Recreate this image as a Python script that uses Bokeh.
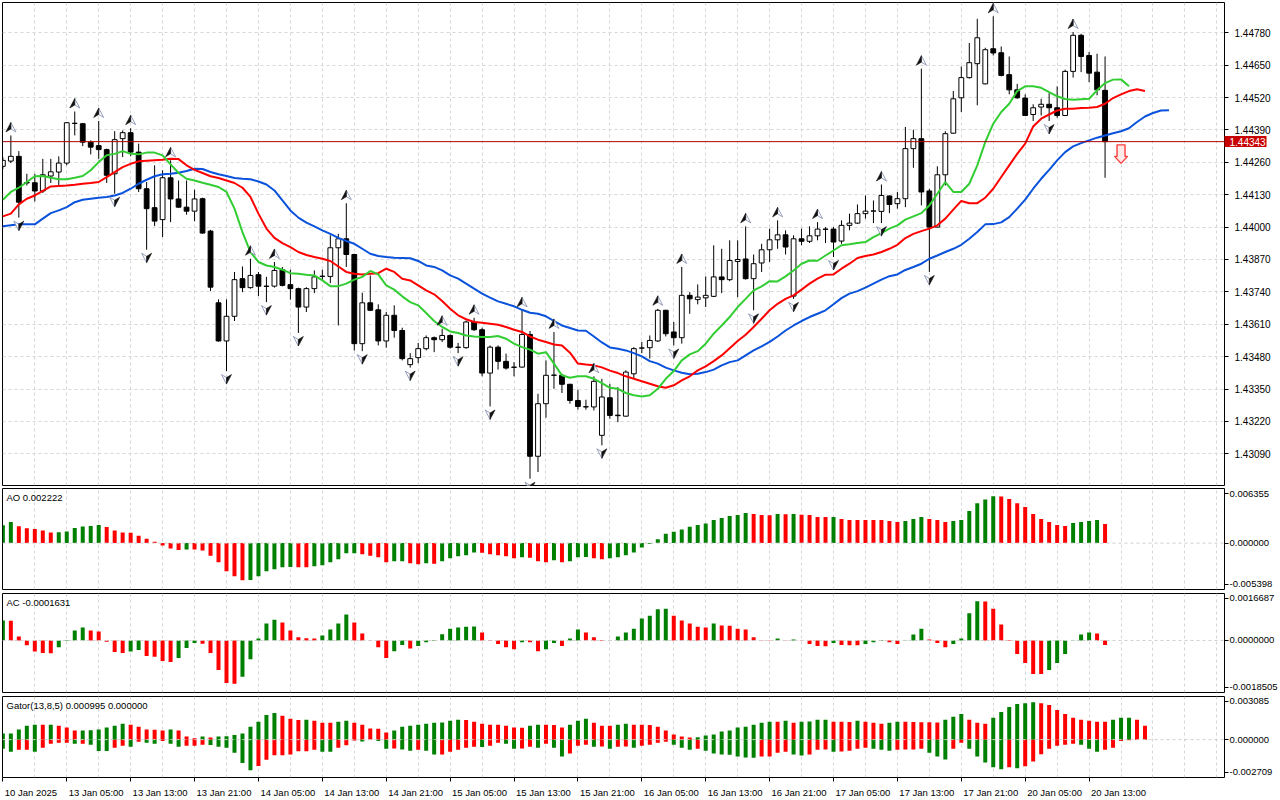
import numpy as np
from bokeh.plotting import figure
from bokeh.layouts import column
from bokeh.models import (Range1d, FixedTicker, PrintfTickFormatter, Span, Label, Grid,
                          LinearAxis)
from bokeh.embed import file_html
from bokeh.resources import INLINE

# ---------------- data (prices in points of 0.00001) ----------------
open_pts = [
    144244, 144265, 144284, 144179, 144178, 144145, 144205, 144221, 144257, 144416,
    144415, 144341, 144327, 144311, 144214, 144355, 144379, 144301, 144154, 144078,
    144030, 144198, 144113, 144080, 144064, 144114, 143984, 143696, 143543, 143642,
    143793, 143757, 143809, 143763, 143763, 143829, 143769, 143753, 143679, 143753,
    143802, 143802, 143917, 143953, 143890, 143532, 143696, 143668, 143543, 143646,
    143585, 143448, 143476, 143512, 143556, 143548, 143565, 143518, 143516, 143619,
    143588, 143414, 143518, 143461, 143438, 143438, 143569, 143080, 143291, 143405,
    143405, 143369, 143304, 143279, 143278, 143164, 143315, 143245, 143241, 143411,
    143514, 143516, 143543, 143666, 143579, 143556, 143726, 143709, 143716, 143722,
    143800, 143789, 143862, 143872, 143793, 143856, 143909, 143949, 143969, 143723,
    143953, 143943, 143965, 143992, 143992, 143944, 144007, 144016, 144054, 144064,
    144063, 144125, 144094, 144114, 144315, 144355, 144145, 144000, 144210, 144377,
    144519, 144600, 144656, 144575, 144716, 144700, 144612, 144551, 144518, 144452,
    144482, 144493, 144479, 144448, 144625, 144770, 144689, 144622, 144549]
high_pts = [
    144281, 144368, 144305, 144214, 144214, 144274, 144274, 144284, 144422, 144464,
    144418, 144348, 144426, 144315, 144385, 144388, 144397, 144335, 144181, 144248,
    144228, 144268, 144187, 144187, 144150, 144118, 143989, 143710, 143710, 143820,
    143842, 143873, 143820, 143800, 143860, 143840, 143829, 143757, 143759, 143826,
    143829, 143967, 143973, 144096, 143893, 143737, 143806, 143690, 143659, 143686,
    143596, 143494, 143535, 143565, 143561, 143592, 143569, 143535, 143625, 143636,
    143596, 143525, 143525, 143492, 143458, 143666, 143583, 143331, 143465, 143579,
    143411, 143371, 143347, 143307, 143401, 143391, 143371, 143358, 143425, 143518,
    143539, 143565, 143672, 143668, 143619, 143840, 143739, 143770, 143802, 143927,
    143913, 143947, 143947, 144003, 143890, 143933, 143994, 144027, 143987, 143967,
    143994, 144003, 144020, 144000, 144000, 144027, 144054, 144091, 144127, 144107,
    144171, 144127, 144141, 144402, 144391, 144636, 144154, 144244, 144385, 144546,
    144645, 144739, 144836, 144720, 144846, 144725, 144685, 144575, 144533, 144493,
    144515, 144538, 144565, 144632, 144783, 144776, 144703, 144696, 144685]
low_pts = [
    144234, 144257, 144038, 144167, 144103, 144137, 144177, 144167, 144248, 144368,
    144325, 144292, 144274, 144177, 144134, 144281, 144284, 144141, 143909, 144004,
    143960, 144020, 144078, 144050, 144024, 143973, 143743, 143540, 143422, 143623,
    143739, 143753, 143723, 143699, 143757, 143762, 143709, 143575, 143659, 143735,
    143786, 143775, 143605, 143840, 143505, 143502, 143663, 143525, 143516, 143556,
    143465, 143436, 143454, 143505, 143498, 143539, 143512, 143494, 143512, 143583,
    143401, 143280, 143428, 143428, 143401, 143436, 142990, 143017, 143235, 143351,
    143334, 143291, 143267, 143267, 143264, 143124, 143231, 143217, 143240, 143391,
    143494, 143472, 143539, 143561, 143525, 143532, 143652, 143690, 143679, 143719,
    143735, 143783, 143719, 143789, 143666, 143820, 143860, 143913, 143890, 143712,
    143927, 143936, 143947, 143936, 143880, 143933, 143987, 144013, 144034, 144016,
    144016, 144056, 144074, 144080, 144238, 144087, 143820, 143999, 144167, 144375,
    144462, 144596, 144489, 144573, 144689, 144605, 144533, 144515, 144447, 144426,
    144448, 144426, 144439, 144447, 144600, 144622, 144582, 144529, 144198]
close_pts = [
    144268, 144284, 144100, 144177, 144145, 144210, 144222, 144257, 144419, 144417,
    144341, 144321, 144311, 144208, 144351, 144379, 144301, 144154, 144074, 144024,
    144198, 144113, 144080, 144064, 144113, 143976, 143759, 143543, 143642, 143789,
    143757, 143806, 143763, 143762, 143826, 143766, 143753, 143679, 143753, 143800,
    143803, 143917, 143953, 143890, 143532, 143696, 143666, 143543, 143646, 143585,
    143472, 143472, 143512, 143556, 143548, 143565, 143518, 143517, 143619, 143588,
    143414, 143518, 143461, 143434, 143437, 143569, 143080, 143291, 143405, 143406,
    143369, 143304, 143280, 143278, 143381, 143318, 143244, 143243, 143418, 143512,
    143515, 143545, 143666, 143572, 143556, 143726, 143712, 143719, 143726, 143800,
    143789, 143866, 143870, 143793, 143853, 143909, 143949, 143969, 143920, 143953,
    143943, 143965, 143992, 143991, 143940, 144007, 144016, 144054, 144064, 144065,
    144127, 144091, 144114, 144315, 144355, 144141, 144000, 144210, 144375, 144515,
    144600, 144660, 144760, 144712, 144699, 144609, 144551, 144519, 144448, 144479,
    144493, 144479, 144448, 144625, 144770, 144685, 144618, 144551, 144343]

# Alligator lines (already shifted forward), price points
jaw_pts = [
    144003, 144007, 144011, 144011, 144011, 144034, 144056, 144067, 144080, 144100,
    144110, 144114, 144118, 144121, 144127, 144137, 144154, 144174, 144190, 144204,
    144212, 144214, 144218, 144225, 144234, 144233, 144221, 144212, 144205, 144197,
    144194, 144192, 144183, 144171, 144147, 144107, 144067, 144038, 144018, 144003,
    143987, 143973, 143957, 143944, 143933, 143913, 143893, 143884, 143880, 143877,
    143876, 143875, 143864, 143846, 143840, 143826, 143806, 143793, 143773, 143753,
    143733, 143717, 143702, 143692, 143682, 143668, 143656, 143652, 143642, 143623,
    143605, 143595, 143585, 143584, 143561, 143537, 143517, 143512, 143505, 143494,
    143481, 143462, 143452, 143436, 143425, 143415, 143409, 143411, 143418, 143428,
    143445, 143458, 143465, 143485, 143505, 143521, 143539, 143561, 143585, 143605,
    143623, 143639, 143652, 143666, 143690, 143715, 143733, 143743, 143757, 143773,
    143789, 143803, 143810, 143828, 143840, 143853, 143873, 143886, 143900, 143913,
    143929, 143953, 143980, 144011, 144012, 144019, 144040, 144074, 144110, 144154,
    144194, 144230, 144268, 144301, 144324, 144337, 144348, 144359, 144368, 144377,
    144385, 144397, 144422, 144444, 144458, 144468, 144469]
teeth_pts = [
    144043, 144054, 144091, 144114, 144127, 144145, 144163, 144165, 144167, 144170,
    144174, 144177, 144181, 144201, 144221, 144241, 144254, 144264, 144266, 144268,
    144270, 144274, 144273, 144248, 144230, 144217, 144204, 144197, 144187, 144177,
    144158, 144121, 144054, 143994, 143957, 143936, 143920, 143900, 143888, 143880,
    143873, 143864, 143842, 143820, 143813, 143810, 143813, 143815, 143833, 143820,
    143793, 143786, 143766, 143746, 143730, 143703, 143672, 143646, 143630, 143619,
    143616, 143612, 143608, 143599, 143588, 143579, 143561, 143548, 143539, 143529,
    143525, 143496, 143452, 143448, 143445, 143437, 143424, 143414, 143401, 143391,
    143381, 143371, 143361, 143355, 143365, 143385, 143401, 143425, 143441, 143462,
    143485, 143514, 143543, 143568, 143599, 143632, 143666, 143692, 143712, 143726,
    143749, 143773, 143793, 143809, 143810, 143833, 143853, 143876, 143884, 143890,
    143900, 143913, 143929, 143956, 143973, 143984, 143994, 144007, 144034, 144070,
    144105, 144096, 144096, 144118, 144154, 144201, 144248, 144294, 144335, 144404,
    144435, 144452, 144468, 144475, 144475, 144478, 144479, 144482, 144495, 144518,
    144533, 144546, 144553, 144546]
lips_pts = [
    144110, 144141, 144158, 144181, 144204, 144205, 144198, 144192, 144192, 144198,
    144205, 144228, 144261, 144288, 144294, 144305, 144294, 144292, 144299, 144299,
    144288, 144252, 144217, 144194, 144187, 144178, 144170, 144161, 144141, 144074,
    143980, 143900, 143860, 143846, 143840, 143829, 143815, 143813, 143809, 143806,
    143786, 143763, 143763, 143773, 143789, 143800, 143824, 143810, 143766, 143749,
    143722, 143699, 143686, 143655, 143623, 143599, 143581, 143575, 143565, 143561,
    143559, 143559, 143563, 143552, 143532, 143518, 143508, 143492, 143498, 143452,
    143405, 143395, 143401, 143401, 143391, 143374, 143355, 143351, 143334, 143325,
    143320, 143325, 143351, 143391, 143422, 143465, 143489, 143502, 143532, 143572,
    143605, 143639, 143679, 143712, 143746, 143762, 143783, 143782, 143802, 143826,
    143853, 143866, 143865, 143886, 143906, 143927, 143931, 143936, 143940, 143960,
    143976, 143994, 144007, 144030, 144043, 144056, 144087, 144134, 144181, 144141,
    144141, 144174, 144248, 144341, 144415, 144462, 144495, 144546, 144565, 144565,
    144559, 144542, 144525, 144514, 144511, 144513, 144515, 144549, 144578, 144592,
    144593, 144565]

# Oscillators, in units of 0.001
ao_vals = [
    2.08, 2.46, 1.96, 1.73, 1.65, 1.46, 1.23, 1.25, 1.35, 1.77,
    1.92, 2.00, 2.12, 1.88, 1.46, 1.23, 1.22, 0.85, 0.50, 0.15,
    -0.27, -0.62, -0.81, -0.73, -0.75, -0.85, -1.46, -2.23, -3.27, -3.85,
    -4.31, -4.29, -3.85, -3.27, -3.04, -2.81, -2.78, -2.80, -2.82, -2.69,
    -2.58, -2.23, -1.89, -1.19, -1.17, -1.31, -1.46, -1.65, -2.23, -2.12,
    -2.10, -2.35, -2.46, -2.35, -2.39, -2.12, -1.77, -1.54, -1.42, -1.08,
    -1.12, -1.31, -1.42, -1.54, -1.77, -1.65, -1.69, -2.12, -2.23, -2.00,
    -2.23, -2.12, -1.65, -1.62, -1.77, -1.89, -1.77, -1.65, -1.42, -1.08,
    -0.50, -0.08, 0.46, 1.08, 1.31, 1.58, 1.89, 2.12, 2.27, 2.69,
    2.92, 3.15, 3.27, 3.50, 3.39, 3.27, 3.23, 3.39, 3.35, 3.39,
    3.30, 3.27, 3.04, 3.03, 3.04, 2.81, 2.69, 2.688, 2.685, 2.68,
    2.675, 2.58, 2.46, 2.58, 2.81, 3.04, 2.81, 2.69, 2.46, 2.58,
    2.69, 3.73, 4.65, 5.08, 5.46, 5.42, 5.12, 4.65, 4.19, 3.39,
    2.81, 2.46, 2.12, 2.00, 2.35, 2.46, 2.58, 2.69, 2.222]
ac_vals = [
    0.71, 0.70, 0.14, -0.17, -0.39, -0.45, -0.455, -0.24, -0.02, 0.35,
    0.46, 0.35, 0.32, -0.05, -0.41, -0.45, -0.39, -0.34, -0.55, -0.58,
    -0.73, -0.77, -0.62, -0.27, -0.09, -0.12, -0.45, -1.05, -1.51, -1.54,
    -1.29, -0.67, 0.07, 0.60, 0.74, 0.64, 0.35, 0.11, 0.08, 0.07,
    0.18, 0.39, 0.60, 0.92, 0.64, 0.25, -0.01, -0.24, -0.62, -0.38,
    -0.16, -0.29, -0.20, -0.06, -0.02, 0.22, 0.42, 0.46, 0.49, 0.50,
    0.28, -0.02, -0.13, -0.24, -0.31, -0.06, -0.065, -0.38, -0.31, -0.09,
    -0.20, 0.07, 0.39, 0.28, 0.11, -0.02, -0.01, 0.14, 0.28, 0.42,
    0.78, 0.88, 1.11, 1.13, 0.88, 0.71, 0.60, 0.49, 0.46, 0.60,
    0.53, 0.525, 0.42, 0.39, 0.11, -0.012, -0.015, 0.07, -0.01, 0.035,
    -0.01, -0.13, -0.20, -0.205, -0.09, -0.165, -0.17, -0.175, -0.13, -0.06,
    -0.02, -0.06, -0.13, -0.01, 0.21, 0.42, 0.035, -0.09, -0.24, -0.13,
    0.07, 0.97, 1.39, 1.38, 1.13, 0.57, -0.02, -0.48, -0.80, -1.19,
    -1.195, -1.05, -0.80, -0.48, -0.01, 0.21, 0.28, 0.25, -0.1631]
gator_upper = [
    0.43, 0.44, 0.72, 1.00, 1.07, 1.06, 1.07, 1.00, 0.86, 0.65,
    0.66, 0.67, 0.72, 0.86, 1.00, 1.14, 1.07, 0.93, 0.72, 0.71,
    0.65, 0.72, 0.65, 0.23, 0.09, 0.23, 0.16, 0.23, 0.24, 0.33,
    0.44, 0.93, 1.28, 1.77, 1.91, 1.70, 1.49, 1.40, 1.42, 1.35,
    1.21, 1.20, 1.28, 1.35, 1.21, 1.07, 0.79, 0.78, 0.51, 0.65,
    0.93, 1.00, 1.07, 1.14, 1.21, 1.22, 1.35, 1.42, 1.41, 1.28,
    1.14, 1.07, 1.06, 1.00, 0.86, 0.85, 1.00, 1.07, 1.06, 1.05,
    0.86, 1.07, 1.35, 1.49, 1.21, 1.00, 0.99, 1.07, 1.14, 1.07,
    1.06, 1.05, 0.93, 0.65, 0.37, 0.23, 0.16, 0.17, 0.30, 0.37,
    0.58, 0.65, 0.86, 0.93, 1.07, 1.21, 1.28, 1.27, 1.35, 1.21,
    1.28, 1.29, 1.42, 1.43, 1.28, 1.27, 1.26, 1.35, 1.28, 1.21,
    1.14, 1.21, 1.28, 1.27, 1.26, 1.25, 1.24, 1.23, 1.42, 1.63,
    1.84, 1.42, 1.21, 1.14, 1.56, 1.98, 2.33, 2.54, 2.61, 2.67,
    2.60, 2.47, 2.12, 1.84, 1.56, 1.42, 1.35, 1.28, 1.27, 1.42,
    1.56, 1.57, 1.42, 0.995]
gator_lower = [
    -0.65, -0.86, -0.72, -0.72, -0.86, -0.58, -0.30, -0.23, -0.23, -0.30,
    -0.30, -0.37, -0.81, -0.82, -0.58, -0.44, -0.51, -0.16, -0.23, -0.30,
    -0.09, -0.30, -0.51, -0.44, -0.44, -0.37, -0.38, -0.51, -0.58, -0.93,
    -1.67, -2.19, -1.88, -1.44, -1.12, -1.11, -1.07, -0.84, -0.83, -0.72,
    -0.86, -0.87, -0.58, -0.40, -0.07, -0.14, -0.01, -0.09, -0.65, -0.64,
    -0.70, -0.79, -0.72, -0.79, -1.07, -1.06, -0.86, -0.72, -0.58, -0.51,
    -0.52, -0.44, -0.23, -0.30, -0.65, -0.64, -0.51, -0.58, -0.30, -0.58,
    -1.21, -1.00, -0.44, -0.37, -0.51, -0.50, -0.65, -0.51, -0.50, -0.58,
    -0.44, -0.37, -0.23, -0.16, -0.37, -0.58, -0.72, -0.65, -0.79, -1.00,
    -1.07, -1.08, -1.21, -1.28, -1.29, -1.21, -1.20, -0.93, -0.86, -1.07,
    -1.14, -1.07, -0.72, -0.71, -0.86, -0.85, -0.79, -0.65, -0.58, -0.65,
    -0.72, -0.79, -0.72, -0.71, -0.70, -0.65, -0.93, -1.21, -1.42, -0.65,
    -0.23, -0.65, -1.21, -1.63, -1.98, -2.12, -1.98, -2.05, -1.91, -1.56,
    -1.05, -0.65, -0.44, -0.37, -0.30, -0.37, -0.65, -0.86, -0.72, -0.58,
    -0.09, -0.05, 0.0, 0.0]

fractal_up_bars = [1, 9, 12, 16, 21, 31, 34, 43, 55, 59, 65, 69, 74, 82, 85, 93, 97, 102, 110, 115, 124, 134]
fractal_down_bars = [2, 14, 18, 28, 33, 37, 45, 51, 57, 61, 66, 75, 84, 94, 99, 104, 110, 116, 131]

time_tick_bars = [0, 8, 16, 24, 32, 40, 48, 56, 64, 72, 80, 88, 96, 104, 112, 120, 128, 136]
time_labels = ["10 Jan 2025", "13 Jan 05:00", "13 Jan 13:00", "13 Jan 21:00", "14 Jan 05:00",
               "14 Jan 13:00", "14 Jan 21:00", "15 Jan 05:00", "15 Jan 13:00", "15 Jan 21:00",
               "16 Jan 05:00", "16 Jan 13:00", "16 Jan 21:00", "17 Jan 05:00", "17 Jan 13:00",
               "17 Jan 21:00", "20 Jan 05:00", "20 Jan 13:00"]
price_ticks = [1.43090, 1.43220, 1.43350, 1.43480, 1.43610, 1.43740, 1.43870,
               1.44000, 1.44130, 1.44260, 1.44390, 1.44520, 1.44650, 1.44780]
last_price = 1.44343
sell_signal_bar = 140
sell_signal_price = 1.44330
ao_scale = (-0.005398, 0.006355)
ac_scale = (-0.0018505, 0.0016687)
gator_scale = (-0.002709, 0.003085)
ao_title = "AO 0.002222"
ac_title = "AC -0.0001631"
gator_title = "Gator(13,8,5) 0.000995 0.000000"

# ---------------- styling / layout ----------------
FONT = "Liberation Sans"
W = 1280
BL, BR = 2, 54
FRAME_W = W - BL - BR
PX_PER_BAR = 8.0
X0 = -0.046
X1 = X0 + FRAME_W / PX_PER_BAR
XR = Range1d(X0, X1)
GRID_C = "#d6d6d6"
GREEN, RED = "#008000", "#ff0000"
YLO, YHI = 1.429627, 1.449016
MAIN_H, MAIN_TOP, MAIN_BOT = 487, 2, 2
MAIN_FRAME = MAIN_H - MAIN_TOP - MAIN_BOT
PX_PER_PRICE = MAIN_FRAME / (YHI - YLO)


def base_fig(height, yr, top, bottom, xaxis=False, standoff=2, fs="10px"):
    p = figure(width=W, height=height, x_range=XR, y_range=yr,
               output_backend="svg", toolbar_location=None,
               x_axis_location="below" if xaxis else None, y_axis_location="right",
               min_border_left=BL, min_border_right=BR, min_border_top=top,
               min_border_bottom=bottom, background_fill_color="white",
               border_fill_color="white")
    p.outline_line_color = "black"
    p.outline_line_width = 1
    p.outline_line_alpha = 1.0
    ya = p.yaxis[0]
    ya.axis_line_color = None
    ya.major_tick_out = 4
    ya.major_tick_in = 0
    ya.major_tick_line_color = "black"
    ya.minor_tick_line_color = None
    ya.major_label_text_font = FONT
    ya.major_label_text_font_size = fs
    ya.major_label_text_color = "black"
    ya.major_label_standoff = standoff
    p.xgrid.visible = False
    p.ygrid.grid_line_color = GRID_C
    p.ygrid.grid_line_dash = "3 3"
    p.add_layout(Grid(dimension=0, ticker=FixedTicker(ticks=list(range(4, 153, 4))),
                      grid_line_color=GRID_C, grid_line_dash="3 3"))
    return p


def sub_axis(p, lo, hi, decimals, frame_h):
    span = hi - lo
    t_top = round(hi - 5.0 / frame_h * span, 9)
    t_bot = round(lo + 5.5 / frame_h * span, 9)
    p.yaxis.ticker = FixedTicker(ticks=[t_bot, 0, t_top])
    fmt = "%%.%df" % decimals
    p.yaxis.major_label_overrides = {t_bot: fmt % lo, 0: fmt % 0.0, t_top: fmt % hi}
    p.ygrid.visible = False
    p.add_layout(Span(location=0, dimension="width", line_color="#cfcfcf",
                      line_dash="3 3", line_width=1, level="overlay"))


def add_title(p, lo, hi, txt, frame_h):
    p.add_layout(Label(x=X0, y=hi - 3.5 / frame_h * (hi - lo), text=txt, x_offset=4,
                       text_baseline="top", text_align="left", text_font=FONT,
                       text_font_size="9.5px", text_color="black"))


# ---------------- main price panel ----------------
n = min(len(open_pts), len(high_pts), len(low_pts), len(close_pts))
o = np.array(open_pts[:n]) / 1e5
h = np.array(high_pts[:n]) / 1e5
l = np.array(low_pts[:n]) / 1e5
c = np.array(close_pts[:n]) / 1e5
idx = np.arange(n)

main = base_fig(MAIN_H, Range1d(YLO, YHI), MAIN_TOP, MAIN_BOT, standoff=3)
main.ygrid[0].ticker = FixedTicker(ticks=price_ticks)

# inner right axis: price-scale tick marks (minor) + current price box (major)
ya = main.yaxis[0]
ya.ticker = FixedTicker(ticks=[last_price], minor_ticks=price_ticks)
ya.formatter = PrintfTickFormatter(format="%.5f")
ya.major_tick_in = 0
ya.major_tick_out = 42
ya.major_tick_line_width = 11
ya.major_tick_line_color = "#c80000"
ya.minor_tick_in = 0
ya.minor_tick_out = 4
ya.minor_tick_line_color = "black"
ya.major_label_standoff = -37
ya.major_label_text_color = "white"

# outer right axis: price labels, pulled back next to the frame
pa = LinearAxis(ticker=FixedTicker(ticks=price_ticks),
                formatter=PrintfTickFormatter(format="%.5f"))
pa.axis_line_color = None
pa.major_tick_line_color = None
pa.major_tick_in = 0
pa.major_tick_out = 0
pa.minor_tick_line_color = None
pa.major_label_standoff = -34
pa.major_label_text_font = FONT
pa.major_label_text_font_size = "10px"
pa.major_label_text_color = "black"
main.add_layout(pa, "right")

main.segment(idx, l, idx, h, line_color="black", line_width=1)
bull = c >= o
main.vbar(x=idx, top=np.maximum(o, c), bottom=np.minimum(o, c), width=0.6,
          fill_color=["white" if b else "black" for b in bull],
          line_color="black", line_width=1)

jaw = np.array(jaw_pts) / 1e5
teeth = np.array(teeth_pts) / 1e5
lips = np.array(lips_pts) / 1e5
main.line(np.arange(len(jaw)), jaw, line_color="#0a52dc", line_width=2)
main.line(np.arange(len(teeth)), teeth, line_color="#ff0000", line_width=2)
main.line(np.arange(len(lips)), lips, line_color="#32cd32", line_width=2)


# fractal arrow heads: two-tone halves, shape given in pixels around an anchor
def arrow_halves(bars, prices, direction):
    dark_x, dark_y, light_x, light_y = [], [], [], []
    s = -1.0 if direction == "up" else 1.0   # screen y sign of tip
    for b, pr in zip(bars, prices):
        cy = pr - s * 8.0 / PX_PER_PRICE      # centre 8px beyond high/low
        def pt(px, py):
            return b + px / PX_PER_BAR, cy - py / PX_PER_PRICE
        tip = pt(0, 5 * s)
        notch = pt(0, -1.5 * s)
        left = pt(-5, -4.5 * s)
        right = pt(5, -4.5 * s)
        a = [tip, left, notch]
        bb = [tip, notch, right]
        if direction == "down":
            a, bb = bb, a
        dark_x.append([q[0] for q in a]); dark_y.append([q[1] for q in a])
        light_x.append([q[0] for q in bb]); light_y.append([q[1] for q in bb])
    return dark_x, dark_y, light_x, light_y


fu = np.array(fractal_up_bars)
fd = np.array(fractal_down_bars)
for bars, prices, d in ((fu, h[fu], "up"), (fd, l[fd], "down")):
    dx, dy, lx, ly = arrow_halves(bars, prices, d)
    main.patches(lx, ly, fill_color="white", line_color="#7d89aa", line_width=0.8)
    main.patches(dx, dy, fill_color="#111111", line_color="#111111", line_width=0.6)

main.add_layout(Span(location=last_price, dimension="width", line_color="#b00000", line_width=1))

# sell signal: hollow down arrow anchored at its top centre
ax_px = [-4, 4, 4, 6.5, 0, -6.5, -4]
ay_px = [0, 0, 11.5, 11.5, 18.5, 11.5, 11.5]
main.patch([sell_signal_bar + v / PX_PER_BAR for v in ax_px],
           [sell_signal_price - v / PX_PER_PRICE for v in ay_px],
           fill_color="#ffeaea", line_color="#ff3b3b", line_width=1.4)

# ---------------- AO ----------------
ao = np.array(ao_vals) * 1e-3
ao_col = [GREEN if (i == 0 or ao[i] > ao[i - 1]) else RED for i in range(len(ao))]
aof = base_fig(104, Range1d(*ao_scale), 1, 2, standoff=1, fs="9.5px")
sub_axis(aof, ao_scale[0], ao_scale[1], 6, 101)
aof.vbar(x=np.arange(len(ao)), top=ao, bottom=0, width=0.5, fill_color=ao_col, line_color=None)
add_title(aof, ao_scale[0], ao_scale[1], ao_title, 101)

# ---------------- AC ----------------
ac = np.array(ac_vals) * 1e-3
ac_col = [GREEN if (i == 0 or ac[i] > ac[i - 1]) else RED for i in range(len(ac))]
acf = base_fig(103, Range1d(*ac_scale), 2, 2, standoff=1, fs="9.5px")
sub_axis(acf, ac_scale[0], ac_scale[1], 7, 99)
acf.vbar(x=np.arange(len(ac)), top=ac, bottom=0, width=0.5, fill_color=ac_col, line_color=None)
add_title(acf, ac_scale[0], ac_scale[1], ac_title, 99)

# ---------------- Gator ----------------
gu = np.array(gator_upper) * 1e-3
gl = np.array(gator_lower) * 1e-3
gu_col = [GREEN if (i == 0 or gu[i] > gu[i - 1]) else RED for i in range(len(gu))]
gl_col = [GREEN if (i == 0 or abs(gl[i]) > abs(gl[i - 1])) else RED for i in range(len(gl))]
gf = base_fig(106, Range1d(*gator_scale), 2, 21, xaxis=True, standoff=1, fs="9.5px")
sub_axis(gf, gator_scale[0], gator_scale[1], 6, 83)
gf.vbar(x=np.arange(len(gu)), top=gu, bottom=0, width=0.5, fill_color=gu_col, line_color=None)
gf.vbar(x=np.arange(len(gl)), top=0, bottom=gl, width=0.5, fill_color=gl_col, line_color=None)
add_title(gf, gator_scale[0], gator_scale[1], gator_title, 83)

# time scale: tick marks (minor) at the bars, labels starting just right of each tick
XFS = 9.5
EM = {"0": .556, "1": .556, "2": .556, "3": .556, "4": .556, "5": .556, "6": .556,
      "7": .556, "8": .556, "9": .556, " ": .278, ":": .278, "J": .5, "a": .556, "n": .556}
lab_pos = []
for k, s in zip(time_tick_bars, time_labels):
    wpx = sum(EM.get(ch, .556) for ch in s) * XFS
    lab_pos.append(round(k + (wpx / 2 + 2.0) / PX_PER_BAR, 4))

xa = gf.xaxis[0]
xa.ticker = FixedTicker(ticks=lab_pos, minor_ticks=time_tick_bars)
xa.major_label_overrides = {p_: s for p_, s in zip(lab_pos, time_labels)}
xa.axis_line_color = None
xa.major_tick_line_color = None
xa.major_tick_out = 0
xa.major_tick_in = 0
xa.minor_tick_line_color = "black"
xa.minor_tick_out = 4
xa.minor_tick_in = 0
xa.major_label_text_font = FONT
xa.major_label_text_font_size = "%spx" % XFS
xa.major_label_text_color = "black"
xa.major_label_standoff = 5

layout = column(main, aof, acf, gf, spacing=0)
open("out.html", "w").write(file_html(layout, INLINE))
